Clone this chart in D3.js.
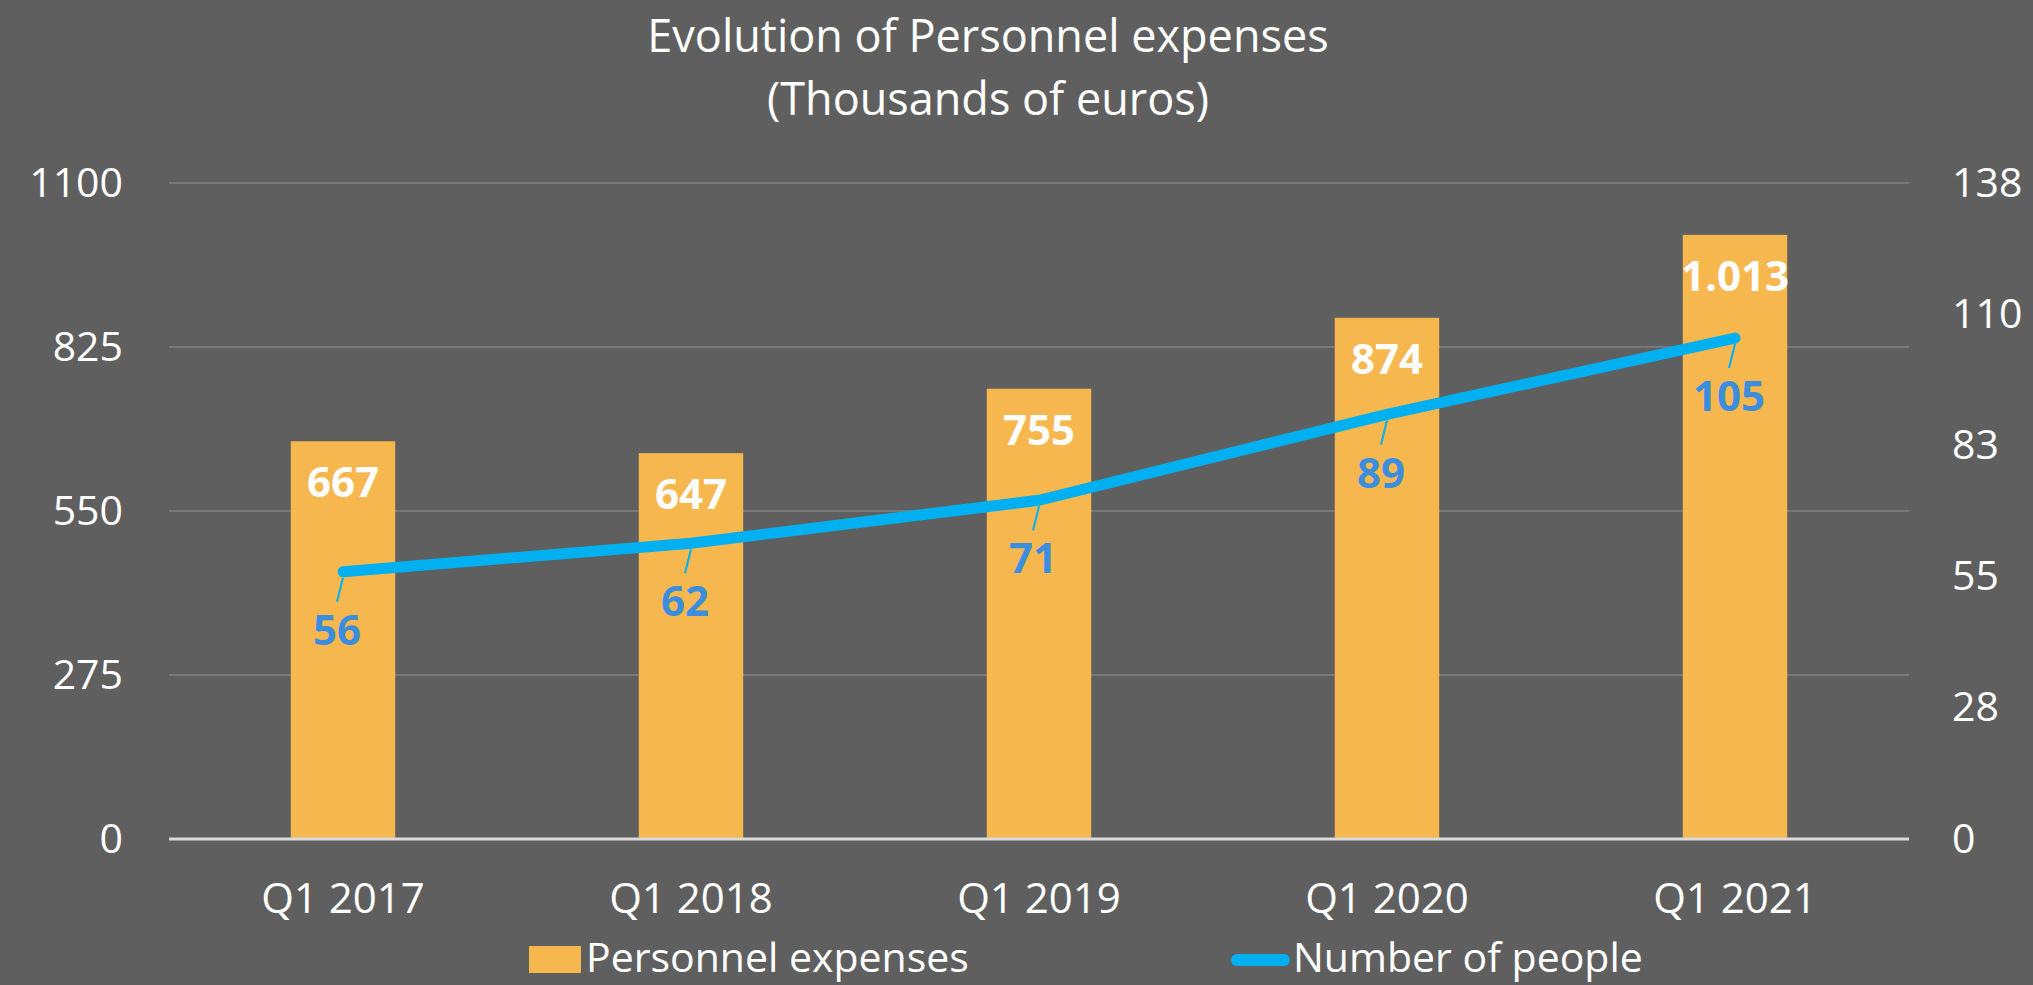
<!DOCTYPE html>
<html>
<head>
<meta charset="utf-8">
<script src="https://cdn.jsdelivr.net/npm/d3@7"></script>
<style>
  html, body { margin: 0; padding: 0; background: #5f5f5f; }
  svg { display: block; }
  text { font-family: "Open Sans", sans-serif; fill: #ffffff; }
</style>
</head>
<body>
<svg id="chart"></svg>
<script>
const categories = ["Q1 2017", "Q1 2018", "Q1 2019", "Q1 2020", "Q1 2021"]
const personnelExpenses = [667, 647, 755, 874, 1013]
const numberOfPeople = [56, 62, 71, 89, 105]

const leftTicks = [0, 275, 550, 825, 1100]
const rightTicks = [0, 27.5, 55, 82.5, 110, 137.5]

const titleLines = ["Evolution of Personnel expenses", "(Thousands of euros)"]
const legendLabels = ["Personnel expenses", "Number of people"]

const width = 2033
const height = 985
const margin = {top: 183, right: 124, bottom: 146, left: 169}

const barColor = "#f6b74f"
const lineColor = "#00b0f0"
const labelBlue = "#3b8ede"

// Excel-style number format: dot as thousands separator
const euroLocale = d3.formatLocale({decimal: ",", thousands: ".", grouping: [3], currency: ["", " €"]})
const fmtThousands = euroLocale.format(",")

let svg = d3.select("svg#chart")
    .attr("width", width)
    .attr("height", height)

let x = d3.scaleBand()
    .domain(categories)
    .range([margin.left, width - margin.right])
    .paddingInner(0.7)
    .paddingOuter(0.35)

let yLeft = d3.scaleLinear()
    .domain([0, d3.max(leftTicks)])
    .range([height - margin.bottom, margin.top])

let yRight = d3.scaleLinear()
    .domain([0, d3.max(rightTicks)])
    .range([height - margin.bottom, margin.top])

// Title
svg.append("g")
    .selectAll("text")
    .data(titleLines)
    .join("text")
        .attr("x", 988)
        .attr("y", (d, i) => 52 + i * 63)
        .attr("text-anchor", "middle")
        .style("font-size", "45px")
        .text(d => d)

// Gridlines
svg.append("g")
    .selectAll("line")
    .data(leftTicks.filter(d => d > 0))
    .join("line")
        .attr("x1", margin.left)
        .attr("x2", width - margin.right)
        .attr("y1", d => yLeft(d))
        .attr("y2", d => yLeft(d))
        .attr("stroke", "#787878")
        .attr("stroke-width", 2)

// Left axis
let leftAxis = svg.append("g")
    .attr("transform", `translate(${margin.left},0)`)
    .call(d3.axisLeft(yLeft).tickValues(leftTicks).tickSize(0).tickPadding(46)
        .tickFormat(d3.format("d")))
leftAxis.select(".domain").remove()
leftAxis.selectAll("text")
    .attr("fill", "#fff")
    .style("font-family", "'Open Sans', sans-serif")
    .style("font-size", "41px")

// Right axis
let rightAxis = svg.append("g")
    .attr("transform", `translate(${width - margin.right},0)`)
    .call(d3.axisRight(yRight).tickValues(rightTicks).tickSize(0).tickPadding(43)
        .tickFormat(d => Math.round(d)))
rightAxis.select(".domain").remove()
rightAxis.selectAll("text")
    .attr("fill", "#fff")
    .style("font-family", "'Open Sans', sans-serif")
    .style("font-size", "41px")

// Bars
svg.append("g")
    .selectAll("rect")
    .data(personnelExpenses)
    .join("rect")
        .attr("x", (d, i) => x(categories[i]))
        .attr("y", d => yLeft(d))
        .attr("width", x.bandwidth())
        .attr("height", d => yLeft(0) - yLeft(d))
        .attr("fill", barColor)

// Baseline
svg.append("line")
    .attr("x1", margin.left)
    .attr("x2", width - margin.right)
    .attr("y1", yLeft(0))
    .attr("y2", yLeft(0))
    .attr("stroke", "#d9d9d9")
    .attr("stroke-width", 3)

// Category labels
let bottomAxis = svg.append("g")
    .attr("transform", `translate(0,${yLeft(0)})`)
    .call(d3.axisBottom(x).tickSize(0).tickPadding(44))
bottomAxis.select(".domain").remove()
bottomAxis.selectAll("text")
    .attr("fill", "#fff")
    .style("font-family", "'Open Sans', sans-serif")
    .style("font-size", "42px")

// Bar value labels
svg.append("g")
    .selectAll("text")
    .data(personnelExpenses)
    .join("text")
        .attr("x", (d, i) => x(categories[i]) + x.bandwidth() / 2)
        .attr("y", d => yLeft(d) + 41)
        .attr("dy", "0.36em")
        .attr("text-anchor", "middle")
        .style("font-size", "42px")
        .style("font-weight", "bold")
        .text(d => fmtThousands(d))

// People line
let points = numberOfPeople.map((d, i) => [x(categories[i]) + x.bandwidth() / 2, yRight(d)])

// leader lines from each point down to its label
svg.append("g")
    .selectAll("line")
    .data(points)
    .join("line")
        .attr("x1", d => d[0])
        .attr("y1", d => d[1] + 6)
        .attr("x2", d => d[0] - 6)
        .attr("y2", d => d[1] + 30)
        .attr("stroke", lineColor)
        .attr("stroke-width", 2)

svg.append("path")
    .datum(points)
    .attr("fill", "none")
    .attr("stroke", lineColor)
    .attr("stroke-width", 11)
    .attr("stroke-linecap", "round")
    .attr("stroke-linejoin", "round")
    .attr("d", d3.line())

svg.append("g")
    .selectAll("text")
    .data(numberOfPeople)
    .join("text")
        .attr("x", (d, i) => points[i][0] - 6)
        .attr("y", (d, i) => points[i][1] + 58)
        .attr("dy", "0.36em")
        .attr("text-anchor", "middle")
        .style("font-size", "42px")
        .style("font-weight", "bold")
        .style("fill", labelBlue)
        .text(d => d)

// Legend
let legend = svg.append("g")
legend.append("rect")
    .attr("x", 529)
    .attr("y", 946)
    .attr("width", 52)
    .attr("height", 27)
    .attr("fill", barColor)
legend.append("text")
    .attr("x", 586)
    .attr("y", 972)
    .style("font-size", "41px")
    .text(legendLabels[0])
legend.append("line")
    .attr("x1", 1237)
    .attr("x2", 1284)
    .attr("y1", 960)
    .attr("y2", 960)
    .attr("stroke", lineColor)
    .attr("stroke-width", 12)
    .attr("stroke-linecap", "round")
legend.append("text")
    .attr("x", 1293)
    .attr("y", 972)
    .style("font-size", "41px")
    .text(legendLabels[1])
</script>
</body>
</html>
